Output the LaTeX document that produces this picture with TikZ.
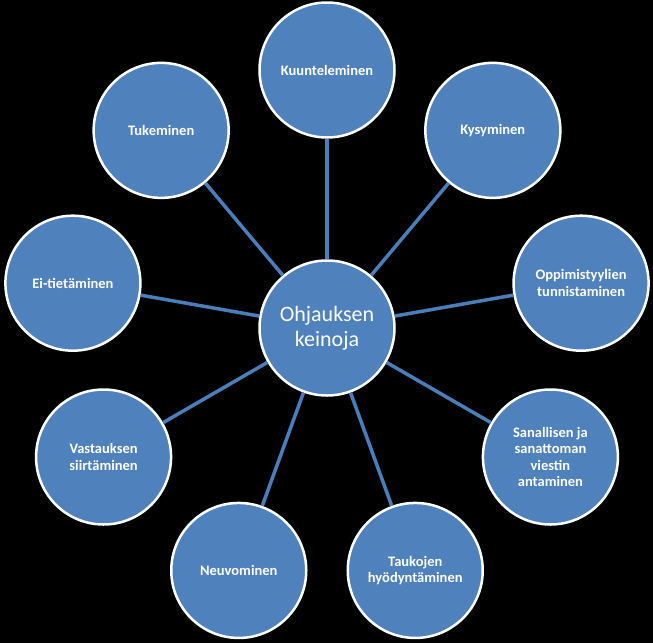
\documentclass[tikz,border=0pt]{standalone}
\usepackage{fontspec}
\setmainfont{Carlito}
\usetikzlibrary{calc}
\definecolor{nodeblue}{HTML}{4F81BD}
\definecolor{linkblue}{HTML}{4A7EBB}
\begin{document}
\begin{tikzpicture}[x=1pt,y=1pt,
  bub/.style={circle,fill=nodeblue,draw=white,line width=2.5pt,minimum size=135pt,inner sep=0pt,
    text=white,font=\fontsize{14.5}{16.5}\selectfont\bfseries,align=center},
  hub/.style={bub,font=\fontsize{22}{25}\selectfont},
  link/.style={draw=linkblue,line width=3.5pt}]
\fill[black] (0,0) rectangle (653,-643);
\useasboundingbox (0,0) rectangle (653,-643);
\coordinate (o) at (327,-328);
\node[hub] (c) at (o) {Ohjauksen\\keinoja};
\node[bub] (n1) at ($(o)+(90:258)$) {Kuunteleminen};
\node[bub] (n2) at ($(o)+(50:258)$) {Kysyminen};
\node[bub] (n3) at ($(o)+(10:258)$) {Oppimistyylien\\tunnistaminen};
\node[bub] (n4) at ($(o)+(-30:258)$) {Sanallisen ja\\sanattoman\\viestin\\antaminen};
\node[bub] (n5) at ($(o)+(-70:258)$) {Taukojen\\hyödyntäminen};
\node[bub] (n6) at ($(o)+(-110:258)$) {Neuvominen};
\node[bub] (n7) at ($(o)+(-150:258)$) {Vastauksen\\siirtäminen};
\node[bub] (n8) at ($(o)+(170:258)$) {Ei-tietäminen};
\node[bub] (n9) at ($(o)+(130:258)$) {Tukeminen};
\foreach \i in {1,...,9} {\draw[link] (c) -- (n\i);}
\end{tikzpicture}
\end{document}
